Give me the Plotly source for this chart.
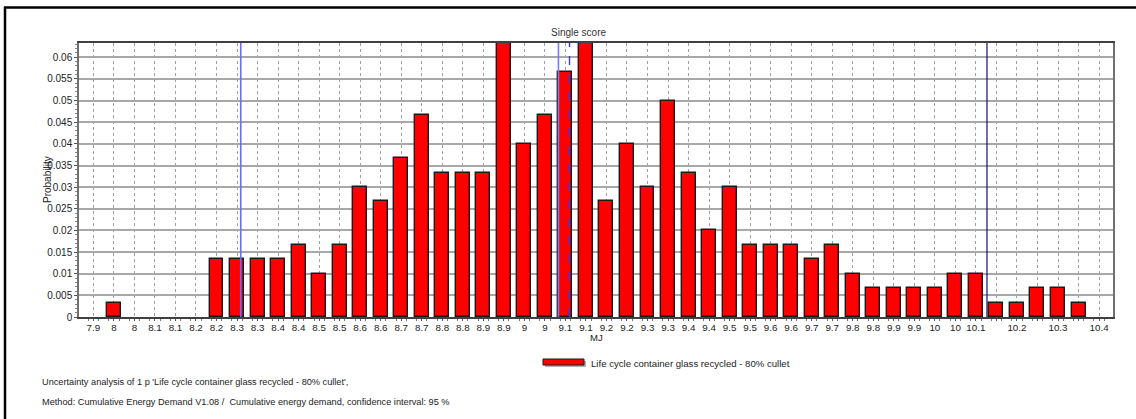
import plotly.graph_objects as go

# Histogram bins of the Monte Carlo result (MJ) and their probabilities
bin_centers = [7.925, 7.975, 8.025, 8.075, 8.125, 8.175, 8.225, 8.275, 8.325, 8.375,
               8.425, 8.475, 8.525, 8.575, 8.625, 8.675, 8.725, 8.775, 8.825, 8.875,
               8.925, 8.975, 9.025, 9.075, 9.125, 9.175, 9.225, 9.275, 9.325, 9.375,
               9.425, 9.475, 9.525, 9.575, 9.625, 9.675, 9.725, 9.775, 9.825, 9.875,
               9.925, 9.975, 10.025, 10.075, 10.125, 10.175, 10.225, 10.275, 10.325, 10.375]

probability = [0, 0.0033, 0, 0, 0, 0, 0.0133, 0.0133, 0.0133, 0.0133,
               0.0167, 0.01, 0.0167, 0.03, 0.0267, 0.0367, 0.0467, 0.0333, 0.0333, 0.0333,
               0.0633, 0.04, 0.0467, 0.0567, 0.0633, 0.0267, 0.04, 0.03, 0.05, 0.0333,
               0.02, 0.03, 0.0167, 0.0167, 0.0167, 0.0133, 0.0167, 0.01, 0.0067, 0.0067,
               0.0067, 0.0067, 0.01, 0.01, 0.0033, 0.0033, 0.0067, 0.0067, 0.0033, 0]

x_tick_labels = ["7.9", "8", "8", "8.1", "8.1", "8.2", "8.2", "8.3", "8.3", "8.4",
                 "8.4", "8.5", "8.5", "8.6", "8.6", "8.7", "8.7", "8.8", "8.8", "8.9",
                 "8.9", "9", "9", "9.1", "9.1", "9.2", "9.2", "9.3", "9.3", "9.4",
                 "9.4", "9.5", "9.5", "9.6", "9.6", "9.7", "9.7", "9.8", "9.8", "9.9",
                 "9.9", "10", "10", "10.1", "", "10.2", "", "10.3", "", "10.4"]

y_tick_values = [0, 0.005, 0.01, 0.015, 0.02, 0.025, 0.03, 0.035, 0.04, 0.045, 0.05, 0.055, 0.06]
y_tick_labels = ["0", "0.005", "0.01", "0.015", "0.02", "0.025", "0.03", "0.035",
                 "0.04", "0.045", "0.05", "0.055", "0.06"]

# Confidence bounds and central values marked on the distribution (MJ)
marker_lines = [8.284, 9.058, 9.085, 10.102]
marker_styles = [
    dict(color="#6a6aff", width=1.6, dash="solid"),
    dict(color="#7a7aff", width=1.6, dash="solid"),
    dict(color="#3a3ae0", width=1.4, dash="dash"),
    dict(color="#10106e", width=1.2, dash="solid"),
]

series_name = "Life cycle container glass recycled - 80% cullet"
title_text = "Single score"
footer_lines = [
    "Uncertainty analysis of 1 p 'Life cycle container glass recycled - 80% cullet',",
    "Method: Cumulative Energy Demand V1.08 /  Cumulative energy demand, confidence interval: 95 %",
]

FONT = "Liberation Sans, Arial, sans-serif"
TEXT = "#222222"

W, H = 1136, 419
L, R, T, B = 79, 1113, 43, 317   # plot area in pixels


def px(xp):
    return (xp - L) / (R - L)


def py(yp):
    return (B - yp) / (B - T)


fig = go.Figure()

fig.add_trace(go.Bar(
    x=bin_centers,
    y=[p if p > 0 else None for p in probability],
    width=0.034,
    marker=dict(color="#ff0000", line=dict(color="#1a1a1a", width=1.4)),
    name=series_name,
    showlegend=False,
))

shapes = []
for xv, st in zip(marker_lines, marker_styles):
    shapes.append(dict(type="line", xref="x", yref="paper", x0=xv, x1=xv, y0=0, y1=1,
                       line=st, layer="above"))

# legend swatch with a soft shadow
shapes.append(dict(type="rect", xref="paper", yref="paper",
                   x0=px(545), x1=px(586), y0=py(367), y1=py(361),
                   fillcolor="#b0b0b0", line=dict(width=0), layer="above"))
shapes.append(dict(type="rect", xref="paper", yref="paper",
                   x0=px(543), x1=px(584), y0=py(365), y1=py(359),
                   fillcolor="#ff0000", line=dict(color="#1a1a1a", width=1), layer="above"))

# outer frame (left and top edges)
shapes.append(dict(type="line", xref="paper", yref="paper",
                   x0=px(5), x1=px(5), y0=py(7), y1=py(419),
                   line=dict(color="#000000", width=2.5), layer="above"))
shapes.append(dict(type="line", xref="paper", yref="paper",
                   x0=px(4), x1=px(1136), y0=py(7.5), y1=py(7.5),
                   line=dict(color="#000000", width=2.5), layer="above"))

annotations = [
    dict(text=title_text, x=px(578), y=py(32), xref="paper", yref="paper",
         showarrow=False, xanchor="center", yanchor="middle",
         font=dict(family=FONT, size=10, color="#333333")),
    dict(text="MJ", x=px(596), y=py(337), xref="paper", yref="paper",
         showarrow=False, xanchor="center", yanchor="middle",
         font=dict(family=FONT, size=9.5, color=TEXT)),
    dict(text="Probability", x=px(47), y=py(180), xref="paper", yref="paper",
         showarrow=False, xanchor="center", yanchor="middle", textangle=-90,
         font=dict(family=FONT, size=10, color=TEXT)),
    dict(text=series_name, x=px(589), y=py(363), xref="paper", yref="paper",
         showarrow=False, xanchor="left", yanchor="middle",
         font=dict(family=FONT, size=9.6, color=TEXT)),
]
for yp, line in zip([382, 402], footer_lines):
    annotations.append(dict(text=line, x=px(40), y=py(yp), xref="paper", yref="paper",
                            showarrow=False, xanchor="left", yanchor="middle",
                            font=dict(family=FONT, size=9.2, color=TEXT)))

fig.update_layout(
    width=W, height=H,
    margin=dict(l=L, r=W - R, t=T, b=H - B, pad=0),
    paper_bgcolor="#ffffff", plot_bgcolor="#ffffff",
    bargap=0,
    shapes=shapes,
    annotations=annotations,
    showlegend=False,
    font=dict(family=FONT, size=10, color=TEXT),
)

fig.update_xaxes(
    range=[7.890, 10.409],
    tickmode="array", tickvals=bin_centers, ticktext=x_tick_labels,
    tickangle=0,
    ticks="outside", ticklen=2, tickcolor="#555555",
    ticklabelstandoff=-2,
    tickfont=dict(family=FONT, size=9.8, color=TEXT),
    showgrid=True, gridcolor="#a0a0a0", gridwidth=1, griddash="3px,3px",
    showline=True, linecolor="#404040", linewidth=1.5, mirror=True,
    zeroline=False,
    minor=dict(tick0=7.9125, dtick=0.025, ticks="outside", ticklen=2,
               tickcolor="#777777", showgrid=False),
)

fig.update_yaxes(
    range=[0, 0.0633],
    tickmode="array", tickvals=y_tick_values, ticktext=y_tick_labels,
    ticks="outside", ticklen=3, tickcolor="#555555",
    tickfont=dict(family=FONT, size=10, color=TEXT),
    showgrid=True, gridcolor="#a8a8a8", gridwidth=1.5,
    showline=True, linecolor="#707070", linewidth=1.5, mirror=True,
    zeroline=False,
    minor=dict(dtick=0.001, ticks="outside", ticklen=2, tickcolor="#888888", showgrid=False),
)

fig.write_html("out.html")
